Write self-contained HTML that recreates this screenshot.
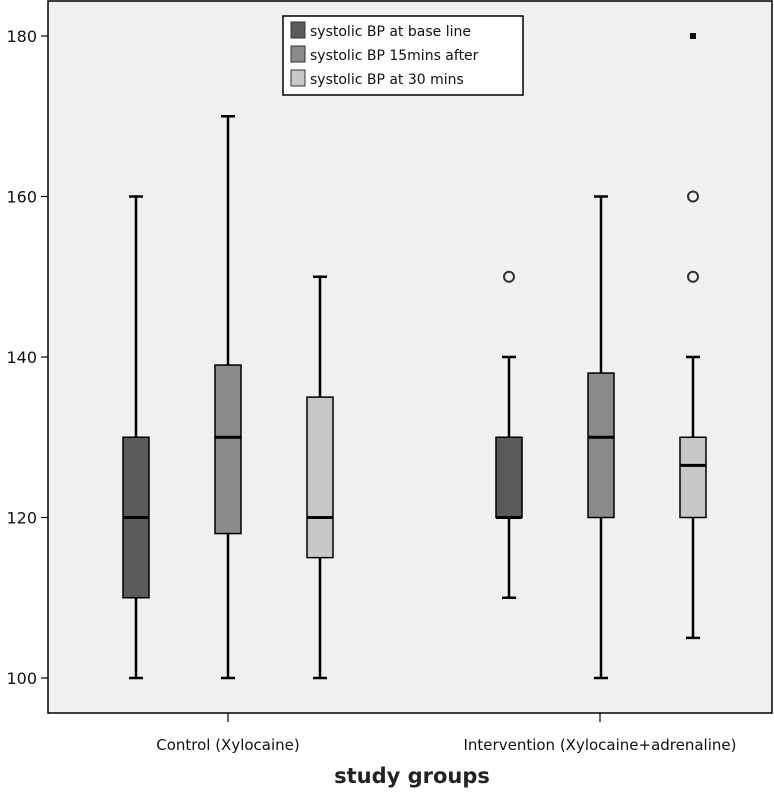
<!DOCTYPE html>
<html><head><meta charset="utf-8"><style>
body{margin:0;background:#fff;}
svg{display:block;font-family:"DejaVu Sans","Liberation Sans",sans-serif;}
</style></head><body>
<svg id="chart" width="774" height="792">
<rect x="48" y="1" width="724" height="712" fill="#f0f0f0" stroke="#000" stroke-width="1.5"/>
<g id="yaxis"></g>
<g id="xaxis"></g>
<g id="boxes"></g>
<text x="412" y="783" font-size="21" font-weight="bold" text-anchor="middle" fill="#222">study groups</text>
<g>
<rect x="283" y="16" width="240" height="79" fill="#fff" stroke="#000" stroke-width="1.5"/>
<g><rect x="291" y="22" width="14" height="16" fill="#5a5a5a" stroke="#333"/><text x="310" y="36" font-size="14" fill="#111">systolic BP at base line</text></g>
<g><rect x="291" y="46" width="14" height="16" fill="#8a8a8a" stroke="#333"/><text x="310" y="60" font-size="14" fill="#111">systolic BP 15mins after</text></g>
<g><rect x="291" y="70" width="14" height="16" fill="#c8c8c8" stroke="#333"/><text x="310" y="84" font-size="14" fill="#111">systolic BP at 30 mins</text></g>
</g>
</svg>
<script>
const groups = ["Control (Xylocaine)", "Intervention (Xylocaine+adrenaline)"];
const seriesNames = ["baseline", "15mins", "30mins"];
const yTicks = [100, 120, 140, 160, 180];
const mins = [[100, 100, 100], [110, 100, 105]];
const q1s = [[110, 118, 115], [120, 120, 120]];
const medians = [[120, 130, 120], [120, 130, 126.5]];
const q3s = [[130, 139, 135], [130, 138, 130]];
const maxs = [[160, 170, 150], [140, 160, 140]];
const outliers = [[[], [], []], [[150], [], [150, 160]]];
const extremes = [[[], [], []], [[], [], [180]]];

const NS = "http://www.w3.org/2000/svg";
const colors = ["#5a5a5a", "#8a8a8a", "#c8c8c8"];
function y(v){ return 678 - (v - 100) * (642 / 80); }
function gx(i){ return 228 + i * 372; }
function sx(g, s){ return gx(g) + (s - 1) * 92; }
function mk(tag, attrs, parent){
  const e = document.createElementNS(NS, tag);
  for (const k in attrs) e.setAttribute(k, attrs[k]);
  parent.appendChild(e); return e;
}
const ya = document.getElementById("yaxis");
yTicks.forEach(t => {
  const l = mk("line", {x1: 41, x2: 48, y1: y(t), y2: y(t), stroke: "#000", "stroke-width": 1.2}, ya);
  
  
  const tx = mk("text", {x: 37, y: y(t) + 6, "font-size": 16, "text-anchor": "end", fill: "#111"}, ya);
  tx.textContent = t;
  
  
});
const xa = document.getElementById("xaxis");
groups.forEach((g, i) => {
  const l = mk("line", {x1: gx(i), x2: gx(i), y1: 713, y2: 722, stroke: "#000", "stroke-width": 1.2}, xa);
  
  
  const tx = mk("text", {x: gx(i), y: 750, "font-size": 15, "text-anchor": "middle", fill: "#111"}, xa);
  tx.textContent = g;
  
  
});
const bx = document.getElementById("boxes");
groups.forEach((g, gi) => {
  seriesNames.forEach((s, si) => {
    const cx = sx(gi, si) + (gi === 1 ? 1 : 0), w = 26;
    const grp = mk("g", {}, bx);
    
    
    mk("line", {x1: cx, x2: cx, y1: y(maxs[gi][si]), y2: y(mins[gi][si]), stroke: "#000", "stroke-width": 2.5}, grp);
    mk("line", {x1: cx - 7, x2: cx + 7, y1: y(maxs[gi][si]), y2: y(maxs[gi][si]), stroke: "#000", "stroke-width": 2.5}, grp);
    mk("line", {x1: cx - 7, x2: cx + 7, y1: y(mins[gi][si]), y2: y(mins[gi][si]), stroke: "#000", "stroke-width": 2.5}, grp);
    mk("rect", {x: cx - w / 2, y: y(q3s[gi][si]), width: w, height: y(q1s[gi][si]) - y(q3s[gi][si]), fill: colors[si], stroke: "#000", "stroke-width": 1.5}, grp);
    mk("line", {x1: cx - w / 2, x2: cx + w / 2, y1: y(medians[gi][si]), y2: y(medians[gi][si]), stroke: "#000", "stroke-width": 3}, grp);
    outliers[gi][si].forEach(v => {
      const c = mk("circle", {cx: cx, cy: y(v), r: 5, fill: "none", stroke: "#333", "stroke-width": 2}, grp);
      
      
    });
    extremes[gi][si].forEach(v => {
      const r = mk("rect", {x: cx - 3, y: y(v) - 3, width: 6, height: 6, fill: "#111"}, grp);
      
      
    });
  });
});
</script>
</body></html>
